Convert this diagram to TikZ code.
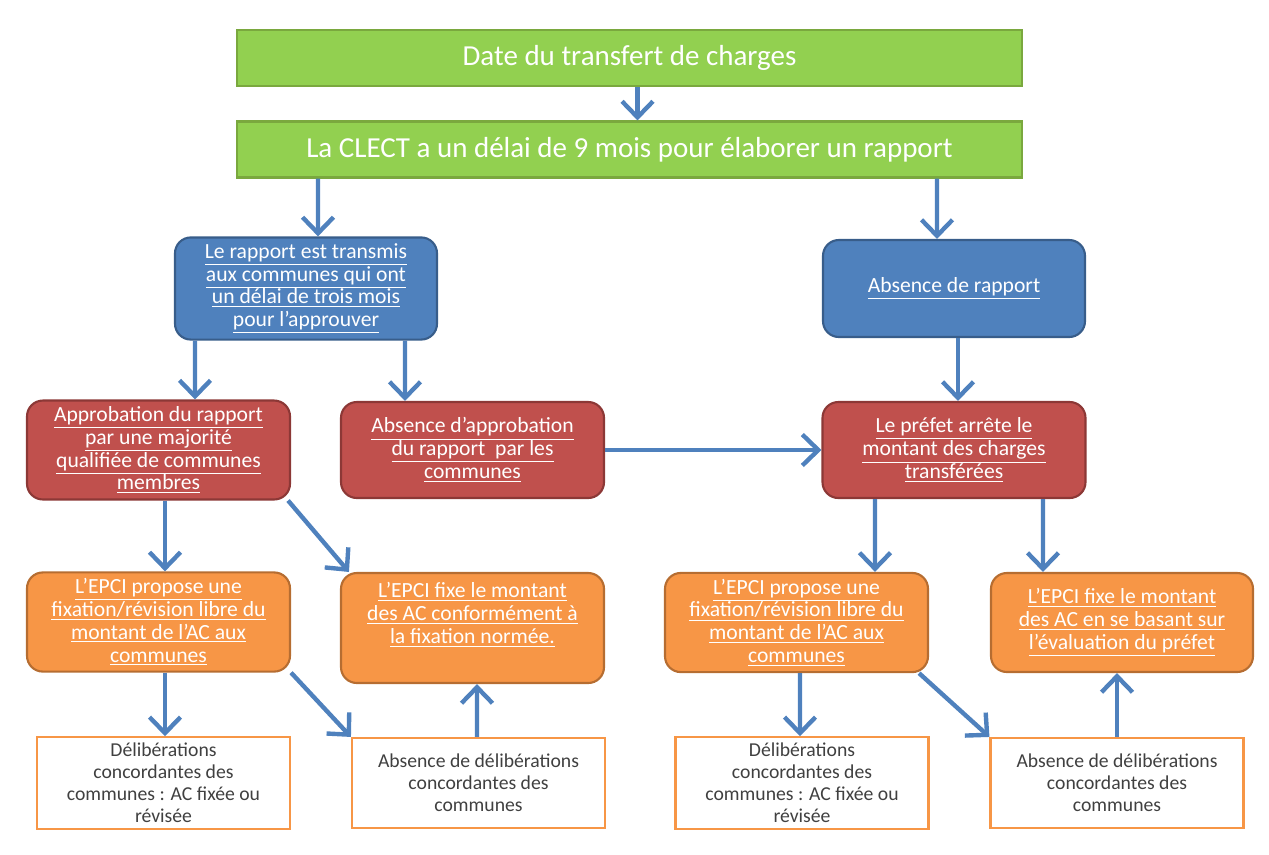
\documentclass[tikz,border=0pt]{standalone}
\usepackage{fontspec}
\setmainfont{Carlito}
\usepackage{xcolor}
\usepackage{tikz}
\usetikzlibrary{shapes,arrows.meta,positioning,calc}

\definecolor{vertfill}{HTML}{92D050}
\definecolor{vertdraw}{HTML}{7AA83E}
\definecolor{bleufill}{HTML}{4F81BD}
\definecolor{bleudraw}{HTML}{385D8A}
\definecolor{rougefill}{HTML}{C0504D}
\definecolor{rougedraw}{HTML}{8C3836}
\definecolor{orangefill}{HTML}{F79646}
\definecolor{orangedraw}{HTML}{B66D31}
\definecolor{texte}{HTML}{404040}

\begin{document}
\begin{tikzpicture}
  % Styles des blocs
  \tikzstyle{etape} = [rectangle, fill=vertfill, draw=vertdraw, line width=1.2pt, minimum width=15.7cm, minimum height=1.12cm, text=white, font=\fontsize{16.5}{19}\selectfont]
  \tikzstyle{rapportbox} = [rectangle, rounded corners=9pt, fill=bleufill, draw=bleudraw, line width=1.2pt, minimum width=5.24cm, minimum height=1.94cm, align=center, text=white, font=\fontsize{12.3}{13}\selectfont]
  \tikzstyle{decision} = [rectangle, rounded corners=9pt, fill=rougefill, draw=rougedraw, line width=1.2pt, minimum width=5.26cm, minimum height=1.92cm, align=center, text=white, font=\fontsize{12.3}{13}\selectfont]
  \tikzstyle{epci} = [rectangle, rounded corners=9pt, fill=orangefill, draw=orangedraw, line width=1.2pt, minimum width=5.26cm, minimum height=1.98cm, align=center, text=white, font=\fontsize{12.3}{13}\selectfont]
  \tikzstyle{deliberation} = [rectangle, fill=white, draw=orangefill, line width=1.2pt, minimum width=5.06cm, minimum height=1.8cm, align=center, text=texte, font=\fontsize{11.2}{12.5}\selectfont]
  \tikzstyle{fleche} = [line width=2.5pt, -{Straight Barb[length=3.2mm,width=6.2mm,line width=2.5pt]}, color=bleufill]

  \useasboundingbox (0,0) rectangle (25.38,-17.08);

  % Etapes initiales
  \node[etape] (date) at (12.59, -1.16) {Date du transfert de charges};
  \node[etape] (clect) at (12.59, -2.99) {La CLECT a un délai de 9 mois pour élaborer un rapport};

  % Rapport
  \node[rapportbox] (rapport) at (6.12, -5.77) {\underline{Le rapport est transmis}\\\underline{aux communes qui ont}\\\underline{un délai de trois mois}\\\underline{pour l’approuver}};
  \node[rapportbox] (absrap) at (19.08, -5.77) {\underline{Absence de rapport}};

  % Decisions
  \node[decision] (approb) at (3.17, -9.0) {\underline{Approbation du rapport}\\\underline{par une majorité}\\\underline{qualifiée de communes}\\\underline{membres}};
  \node[decision] (absapp) at (9.45, -9.0) {\underline{Absence d’approbation}\\\underline{du rapport\ \ par les}\\\underline{communes}};
  \node[decision] (prefet) at (19.08, -9.0) {\underline{Le préfet arrête le}\\\underline{montant des charges}\\\underline{transférées}};

  % Fixation par l'EPCI
  \node[epci] (propA) at (3.17, -12.44) {\underline{L’EPCI propose une}\\\underline{fixation/révision libre du}\\\underline{montant de l’AC aux}\\\underline{communes}};
  \node[epci, minimum height=2.2cm] (fixeA) at (9.45, -12.56) {\underline{L’EPCI fixe le montant}\\\underline{des AC conformément à}\\\underline{la fixation normée.}\\[4pt]};
  \node[epci] (propB) at (15.93, -12.45) {\underline{L’EPCI propose une}\\\underline{fixation/révision libre du}\\\underline{montant de l’AC aux}\\\underline{communes}};
  \node[epci, minimum width=5.24cm] (fixeB) at (22.44, -12.45) {\underline{L’EPCI fixe le montant}\\\underline{des AC en se basant sur}\\\underline{l’évaluation du préfet}};

  % Deliberations des communes
  \node[deliberation] (delibA) at (3.27, -15.66) {Délibérations\\concordantes des\\communes : AC fixée ou\\révisée};
  \node[deliberation] (absdelA) at (9.57, -15.66) {Absence de délibérations\\concordantes des\\communes};
  \node[deliberation] (delibB) at (16.04, -15.66) {Délibérations\\concordantes des\\communes : AC fixée ou\\révisée};
  \node[deliberation] (absdelB) at (22.34, -15.66) {Absence de délibérations\\concordantes des\\communes};

  % Fleches
  \draw[fleche] ([xshift=0.16cm]date.south) -- ([xshift=0.16cm]clect.north);
  \draw[fleche] ([xshift=-6.23cm]clect.south) -- ([xshift=0.24cm]rapport.north);
  \draw[fleche] ([xshift=6.15cm]clect.south) -- ([xshift=-0.34cm]absrap.north);

  \draw[fleche] ([xshift=-2.22cm]rapport.south) -- ([xshift=0.73cm]approb.north);
  \draw[fleche] ([xshift=1.98cm]rapport.south) -- ([xshift=-1.35cm]absapp.north);
  \draw[fleche] ([xshift=0.08cm]absrap.south) -- ([xshift=0.08cm]prefet.north);
  \draw[fleche] (absapp) -- (prefet);

  \draw[fleche] ([xshift=0.13cm]approb.south) -- ([xshift=0.13cm]propA.north);
  \draw[fleche] ([xshift=-0.06cm]approb.south east) -- ([xshift=0.18cm]fixeA.north west);
  \draw[fleche] ([xshift=-1.58cm]prefet.south) -- ([xshift=1.57cm]propB.north);
  \draw[fleche] ([xshift=1.78cm]prefet.south) -- ([xshift=-1.58cm]fixeB.north);

  \draw[fleche] ([xshift=0.13cm]propA.south) -- ([xshift=0.03cm]delibA.north);
  \draw[fleche] (propA.south east) -- (absdelA.north west);
  \draw[fleche] ([xshift=-0.03cm]absdelA.north) -- ([xshift=0.09cm]fixeA.south);
  \draw[fleche] ([xshift=0.07cm]propB.south) -- ([xshift=-0.04cm]delibB.north);
  \draw[fleche] ([xshift=-0.2cm]propB.south east) -- (absdelB.north west);
  \draw[fleche] (absdelB.north) -- ([xshift=-0.1cm]fixeB.south);
\end{tikzpicture}
\end{document}
